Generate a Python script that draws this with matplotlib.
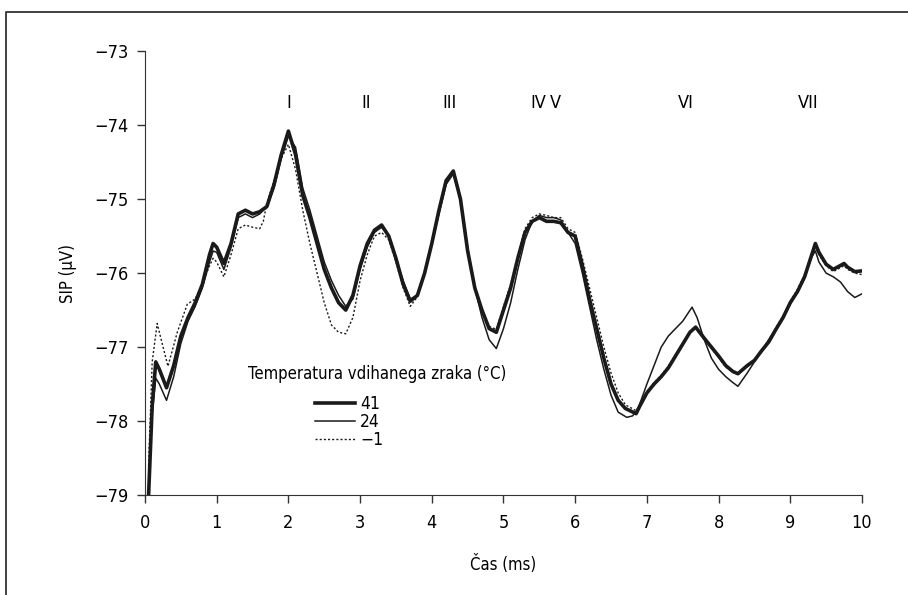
import matplotlib
matplotlib.use("Agg")
import matplotlib.pyplot as plt
from matplotlib.lines import Line2D

plt.rcParams['font.family'] = ['DejaVu Sans']
plt.rcParams['font.stretch'] = 'condensed'

"Data read from the figure (time in ms, SIP in microvolts)"
t_41 = [0.05, 0.10, 0.15, 0.20, 0.30, 0.40, 0.50, 0.60, 0.70, 0.80, 0.90, 0.95, 1.00, 1.10, 1.20, 1.30,
        1.40, 1.50, 1.60, 1.70, 1.80, 1.90, 2.00, 2.10, 2.20, 2.30, 2.40, 2.50, 2.60, 2.70, 2.80,
        2.90, 3.00, 3.10, 3.20, 3.30, 3.40, 3.50, 3.60, 3.70, 3.80, 3.90, 4.00, 4.10, 4.20, 4.30,
        4.40, 4.50, 4.60, 4.70, 4.80, 4.90, 5.00, 5.10, 5.20, 5.30, 5.40, 5.50, 5.60, 5.70, 5.80,
        5.90, 6.00, 6.10, 6.20, 6.30, 6.40, 6.50, 6.60, 6.70, 6.85, 6.90, 7.00, 7.10, 7.20, 7.30,
        7.40, 7.50, 7.60, 7.68, 7.80, 7.90, 8.00, 8.10, 8.20, 8.27, 8.40, 8.50, 8.60, 8.70, 8.80,
        8.90, 9.00, 9.10, 9.20, 9.30, 9.35, 9.40, 9.50, 9.60, 9.75, 9.80, 9.90, 10.0]
sip_41 = [-79.0, -77.8, -77.2, -77.3, -77.55, -77.25, -76.85, -76.6, -76.4, -76.15, -75.75, -75.6,
          -75.65, -75.87, -75.6, -75.2, -75.15, -75.2, -75.17, -75.1, -74.8, -74.4, -74.08, -74.4,
          -74.95, -75.25, -75.6, -75.95, -76.2, -76.4, -76.5, -76.3, -75.9, -75.6, -75.42, -75.35,
          -75.5, -75.8, -76.15, -76.38, -76.3, -76.0, -75.6, -75.15, -74.75, -74.62, -75.0, -75.7,
          -76.2, -76.5, -76.75, -76.8, -76.5, -76.2, -75.8, -75.45, -75.3, -75.25, -75.3, -75.3,
          -75.32, -75.45, -75.5, -75.9, -76.35, -76.75, -77.15, -77.5, -77.72, -77.83, -77.9,
          -77.8, -77.62, -77.5, -77.4, -77.28, -77.12, -76.96, -76.8, -76.73, -76.88, -77.0,
          -77.12, -77.25, -77.33, -77.36, -77.25, -77.18, -77.05, -76.93, -76.76, -76.6, -76.4,
          -76.25, -76.05, -75.75, -75.6, -75.72, -75.88, -75.95, -75.87, -75.92, -75.98, -75.97]

t_24 = [0.05, 0.10, 0.15, 0.20, 0.30, 0.40, 0.50, 0.60, 0.70, 0.80, 0.90, 0.95, 1.00, 1.10, 1.20, 1.30,
        1.40, 1.50, 1.60, 1.70, 1.80, 1.90, 2.00, 2.10, 2.20, 2.30, 2.40, 2.50, 2.60, 2.70, 2.80,
        2.90, 3.00, 3.10, 3.20, 3.30, 3.40, 3.50, 3.60, 3.70, 3.80, 3.90, 4.00, 4.10, 4.20, 4.30,
        4.40, 4.50, 4.60, 4.70, 4.80, 4.90, 5.00, 5.10, 5.20, 5.30, 5.40, 5.50, 5.60, 5.70, 5.80,
        5.90, 6.00, 6.10, 6.20, 6.30, 6.40, 6.50, 6.60, 6.72, 6.80, 6.87, 7.00, 7.10, 7.20, 7.30,
        7.40, 7.50, 7.63, 7.70, 7.80, 7.90, 8.00, 8.10, 8.20, 8.27, 8.40, 8.50, 8.60, 8.70, 8.80,
        8.90, 9.00, 9.10, 9.20, 9.30, 9.35, 9.40, 9.50, 9.60, 9.70, 9.80, 9.90, 10.0]
sip_24 = [-79.0, -77.9, -77.42, -77.5, -77.72, -77.4, -76.95, -76.65, -76.45, -76.2, -75.85, -75.7,
          -75.72, -75.95, -75.65, -75.25, -75.2, -75.25, -75.2, -75.1, -74.85, -74.45, -74.15,
          -74.3, -74.85, -75.15, -75.5, -75.85, -76.1, -76.3, -76.45, -76.35, -75.95, -75.65,
          -75.45, -75.38, -75.5, -75.8, -76.1, -76.35, -76.3, -76.0, -75.6, -75.2, -74.8, -74.66,
          -75.0, -75.65, -76.2, -76.6, -76.9, -77.02, -76.75, -76.4, -75.95, -75.55, -75.3, -75.22,
          -75.25, -75.25, -75.28, -75.45, -75.6, -76.0, -76.45, -76.9, -77.3, -77.65, -77.88,
          -77.95, -77.93, -77.85, -77.5, -77.25, -77.0, -76.85, -76.75, -76.65, -76.46, -76.6,
          -76.9, -77.15, -77.3, -77.4, -77.48, -77.53, -77.35, -77.2, -77.05, -76.9, -76.75,
          -76.6, -76.42, -76.25, -76.05, -75.78, -75.7, -75.85, -76.0, -76.05, -76.12, -76.25,
          -76.33, -76.28]

t_m1 = [0.05, 0.10, 0.17, 0.20, 0.32, 0.45, 0.59, 0.70, 0.80, 0.90, 0.95, 1.00, 1.10, 1.20, 1.30,
        1.40, 1.50, 1.60, 1.65, 1.70, 1.80, 1.90, 2.00, 2.10, 2.20, 2.30, 2.40, 2.50, 2.60, 2.70,
        2.80, 2.90, 3.00, 3.10, 3.20, 3.30, 3.40, 3.50, 3.60, 3.70, 3.80, 3.90, 4.00, 4.10, 4.20,
        4.30, 4.40, 4.50, 4.60, 4.70, 4.80, 4.90, 5.00, 5.10, 5.20, 5.30, 5.40, 5.50, 5.60, 5.70,
        5.80, 5.90, 6.00, 6.10, 6.20, 6.30, 6.40, 6.50, 6.60, 6.70, 6.85, 6.90, 7.00, 7.10, 7.20,
        7.30, 7.40, 7.50, 7.60, 7.68, 7.80, 7.90, 8.00, 8.10, 8.20, 8.27, 8.40, 8.50, 8.60, 8.70,
        8.80, 8.90, 9.00, 9.10, 9.20, 9.30, 9.35, 9.40, 9.50, 9.60, 9.75, 9.80, 9.90, 10.0]
sip_m1 = [-78.6, -77.2, -76.68, -76.8, -77.26, -76.8, -76.42, -76.35, -76.15, -75.9, -75.8, -75.85,
          -76.05, -75.75, -75.4, -75.35, -75.38, -75.4, -75.3, -75.05, -74.75, -74.45, -74.26,
          -74.6, -75.15, -75.6, -76.0, -76.4, -76.7, -76.8, -76.82, -76.6, -76.1, -75.75, -75.5,
          -75.45, -75.55, -75.85, -76.2, -76.45, -76.32, -76.0, -75.62, -75.18, -74.78, -74.65,
          -75.0, -75.7, -76.2, -76.5, -76.72, -76.76, -76.45, -76.15, -75.75, -75.4, -75.25, -75.2,
          -75.22, -75.25, -75.25, -75.4, -75.45, -75.8, -76.2, -76.6, -77.0, -77.35, -77.62, -77.78,
          -77.86, -77.78, -77.6, -77.48, -77.38, -77.26, -77.1, -76.95, -76.8, -76.75, -76.9,
          -77.02, -77.14, -77.27, -77.34, -77.36, -77.27, -77.18, -77.05, -76.9, -76.74, -76.58,
          -76.38, -76.22, -76.02, -75.78, -75.65, -75.75, -75.9, -75.98, -75.9, -75.95, -76.0,
          -76.02]

wave_names = ["I", "II", "III", "IV", "V", "VI", "VII"]
wave_times = [2.0, 3.08, 4.25, 5.48, 5.73, 7.55, 9.25]

fig = plt.figure(figsize=(9.08, 5.95), dpi=100)
ax = fig.add_axes([0.1597, 0.168, 0.7896, 0.746])

ax.plot(t_41, sip_41, color="#1a1a1a", linewidth=2.6, label="41")
ax.plot(t_24, sip_24, color="#1a1a1a", linewidth=1.1, label="24")
ax.plot(t_m1, sip_m1, color="#1a1a1a", linewidth=1.0, linestyle=(0, (1.5, 1.5)), label="\u22121")

for name, tw in zip(wave_names, wave_times):
    ax.text(tw, -73.7, name, ha="center", va="center", fontsize=13)

ax.set_xlim(0, 10)
ax.set_ylim(-79, -73)
ax.set_xticks(range(0, 11))
ax.set_yticks(range(-79, -72))
ax.set_yticklabels(["\u2212%d" % abs(v) for v in range(-79, -72)])
ax.tick_params(labelsize=13, length=6, width=1, color="#333333")
ax.tick_params(axis="x", pad=8)
ax.tick_params(axis="y", pad=6)
ax.spines["top"].set_visible(False)
ax.spines["right"].set_visible(False)
for s in ["left", "bottom"]:
    ax.spines[s].set_color("#333333")

ax.set_xlabel("\u010cas (ms)", fontsize=12, labelpad=16)
ax.set_ylabel("SIP (\u03bcV)", fontsize=12, labelpad=12)

ax.text(1.44, -77.37, "Temperatura vdihanega zraka (\u00b0C)", fontsize=12, va="center")
ax.legend(loc="upper left", bbox_to_anchor=(0.237, 0.225), frameon=False, fontsize=12.5,
          handlelength=2.3, handletextpad=0.3, labelspacing=0.0, borderaxespad=0,
          borderpad=0)

# frame around figure (only left and top edges visible)
fig.add_artist(Line2D([0.0065, 0.0065, 1.0], [0.0, 0.979, 0.979], color="#333333", linewidth=1.3,
                      transform=fig.transFigure))

fig.savefig("out.png", dpi=100)
